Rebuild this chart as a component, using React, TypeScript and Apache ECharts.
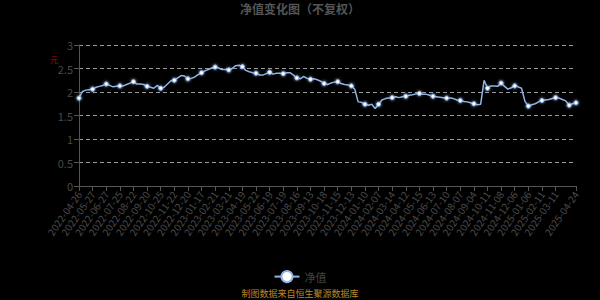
import React, { useEffect, useRef } from "react";
import * as echarts from "echarts";

const TITLE = "净值变化图（不复权）";
const SERIES_NAME = "净值";
const Y_UNIT = "元";
const SOURCE_NOTE = "制图数据来自恒生聚源数据库";

// Dates shown as x-axis labels (every 4th category), last one is the final day
const labelDates = [
  "2022-04-26", "2022-05-27", "2022-06-27", "2022-07-25", "2022-08-22", "2022-09-20",
  "2022-10-25", "2022-11-22", "2022-12-20", "2023-01-17", "2023-02-21", "2023-03-21",
  "2023-04-19", "2023-05-22", "2023-06-19", "2023-07-19", "2023-08-16", "2023-09-13",
  "2023-10-18", "2023-11-15", "2023-12-13", "2024-01-10", "2024-02-07", "2024-03-14",
  "2024-04-12", "2024-05-15", "2024-06-13", "2024-07-10", "2024-08-07", "2024-09-04",
  "2024-10-11", "2024-11-08", "2024-12-06", "2025-01-06", "2025-02-11", "2025-03-11",
  "2025-04-24",
];
const STEPS_PER_LABEL = 4;
const LAST_STEPS = 6;

// Net value readings (one per category)
const navValues = [
  1.87, 2.01, 2.04, 2.05, 2.06, 2.10, 2.12, 2.14, 2.17, 2.14,
  2.11, 2.12, 2.13, 2.13, 2.16, 2.19, 2.22, 2.17, 2.17, 2.16,
  2.12, 2.10, 2.08, 2.14, 2.08, 2.10, 2.17, 2.24, 2.25, 2.30,
  2.35, 2.34, 2.28, 2.29, 2.32, 2.37, 2.41, 2.45, 2.48, 2.51,
  2.53, 2.51, 2.48, 2.48, 2.47, 2.50, 2.56, 2.57, 2.54, 2.46,
  2.43, 2.41, 2.40, 2.36, 2.36, 2.39, 2.42, 2.38, 2.40, 2.40,
  2.39, 2.41, 2.41, 2.36, 2.30, 2.28, 2.33, 2.29, 2.27, 2.28,
  2.26, 2.23, 2.18, 2.16, 2.19, 2.21, 2.22, 2.18, 2.16, 2.15,
  2.13, 2.06, 1.79, 1.78, 1.74, 1.72, 1.74, 1.65, 1.74, 1.83,
  1.86, 1.87, 1.88, 1.90, 1.88, 1.90, 1.91, 1.93, 1.94, 1.96,
  1.97, 1.95, 1.95, 1.93, 1.91, 1.90, 1.89, 1.88, 1.87, 1.87,
  1.86, 1.83, 1.82, 1.80, 1.79, 1.77, 1.75, 1.73, 1.74, 2.25,
  2.08, 2.13, 2.13, 2.12, 2.19, 2.12, 2.06, 2.09, 2.13, 2.11,
  2.08, 1.80, 1.70, 1.73, 1.75, 1.79, 1.82, 1.83, 1.84, 1.86,
  1.88, 1.87, 1.84, 1.81, 1.72, 1.75, 1.77,
];

const yTicks = { min: 0, max: 3, interval: 0.5 };

function buildCategories(): string[] {
  const out: string[] = [];
  for (let k = 0; k < labelDates.length - 1; k++) {
    const a = Date.parse(labelDates[k] + "T00:00:00Z");
    const b = Date.parse(labelDates[k + 1] + "T00:00:00Z");
    const steps = k === labelDates.length - 2 ? LAST_STEPS : STEPS_PER_LABEL;
    for (let m = 0; m < steps; m++) {
      const t = a + ((b - a) * m) / steps;
      out.push(new Date(t).toISOString().slice(0, 10));
    }
  }
  out.push(labelDates[labelDates.length - 1]);
  return out;
}

const FONT = "'Noto Sans CJK SC', 'Noto Sans', sans-serif";

export default function App() {
  const ref = useRef<HTMLDivElement>(null);
  useEffect(() => {
    document.body.style.margin = "0";
    document.body.style.background = "#000";
    if (!ref.current) return;
    const chart = echarts.init(ref.current, undefined, { renderer: "svg" });
    const categories = buildCategories();
    const lineColor = "#8fb3e6";
    chart.setOption({
      animation: false,
      backgroundColor: "#000",
      textStyle: { fontFamily: FONT },
      title: {
        text: TITLE,
        left: "center",
        top: 2,
        padding: 0,
        textStyle: { color: "#555", fontSize: 12, fontWeight: "bold", fontFamily: FONT },
      },
      grid: { left: 79, right: 24, top: 45, bottom: 114, containLabel: false },
      legend: {
        data: [SERIES_NAME],
        top: 270,
        left: "center",
        padding: 0,
        itemWidth: 25,
        itemHeight: 14,
        textStyle: { color: "#444", fontSize: 11, fontFamily: FONT },
      },
      graphic: [
        {
          type: "text",
          left: 50,
          top: 55,
          style: { text: Y_UNIT, fill: "#b00000", fontSize: 8, fontFamily: FONT },
        },
        {
          type: "text",
          left: "center",
          top: 289,
          style: { text: SOURCE_NOTE, fill: "#b8862a", fontSize: 9, fontFamily: FONT },
        },
      ],
      xAxis: {
        type: "category",
        data: categories,
        boundaryGap: false,
        axisLine: { lineStyle: { color: "#555" } },
        axisTick: { lineStyle: { color: "#555" }, interval: STEPS_PER_LABEL - 1 },
        axisLabel: {
          interval: STEPS_PER_LABEL - 1,
          showMaxLabel: true,
          rotate: 55,
          color: "#4a4a4a",
          fontSize: 10,
          margin: 6,
          fontFamily: FONT,
        },
        splitLine: { show: false },
      },
      yAxis: {
        type: "value",
        min: yTicks.min,
        max: yTicks.max,
        interval: yTicks.interval,
        axisLine: { show: true, lineStyle: { color: "#555" } },
        axisTick: { show: true, lineStyle: { color: "#555" } },
        axisLabel: { color: "#4a4a4a", fontSize: 11, margin: 6, fontFamily: FONT },
        splitLine: { lineStyle: { color: "#999", type: [4, 3] } },
      },
      series: [
        {
          name: SERIES_NAME,
          type: "line",
          data: navValues,
          symbol: "circle",
          symbolSize: 4,
          showAllSymbol: "auto",
          lineStyle: { color: lineColor, width: 1.5 },
          itemStyle: { color: "#fff", borderColor: lineColor, borderWidth: 1, shadowColor: "#aac8ff", shadowBlur: 3 },
        },
      ],
    });
    return () => chart.dispose();
  }, []);
  return <div ref={ref} style={{ width: 600, height: 300 }} />;
}
